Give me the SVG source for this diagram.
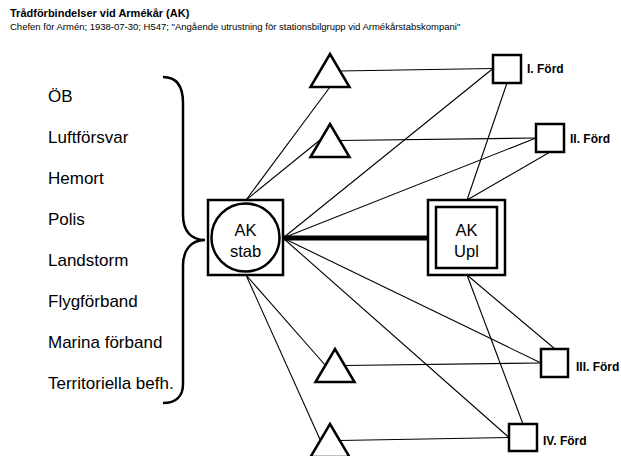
<svg xmlns="http://www.w3.org/2000/svg" width="621" height="456" viewBox="0 0 621 456">
<style>
text{font-family:"Liberation Sans",Arial,sans-serif;fill:#000}
.title{font-size:11px;font-weight:bold}
.sub{font-size:9.5px}
.lbl{font-size:17px}
.node{font-size:16.5px;text-anchor:middle}
.ford{font-size:12px;font-weight:bold}
.sh{fill:#fff;stroke:#000;stroke-width:2.5}
.tri{fill:#fff;stroke:#000;stroke-width:2.5;stroke-linejoin:miter}
.ln{stroke:#000;stroke-width:1.1;fill:none}
</style>
<rect width="621" height="456" fill="#fff"/>
<text class="title" x="10" y="17">Trådförbindelser vid Armékår (AK)</text>
<text class="sub" x="10" y="30">Chefen för Armén; 1938-07-30; H547; "Angående utrustning för stationsbilgrupp vid Armékårstabskompani"</text>
<g id="labels">
<text class="lbl" x="48" y="102">ÖB</text>
<text class="lbl" x="48" y="143">Luftförsvar</text>
<text class="lbl" x="48" y="184">Hemort</text>
<text class="lbl" x="48" y="225">Polis</text>
<text class="lbl" x="48" y="266">Landstorm</text>
<text class="lbl" x="48" y="307">Flygförband</text>
<text class="lbl" x="48" y="348">Marina förband</text>
<text class="lbl" x="48" y="389">Territoriella befh.</text>
</g>
<g id="brace">
<path d="M163,77 C178,77 183,88 183,103 L183,215 C183,231 191,240 205,240 C191,240 183,250 183,266 L183,384 C183,396 176,403 163,403" fill="none" stroke="#000" stroke-width="2.5"/>
</g>
<g id="connectors">
<line x1="283" y1="238" x2="428" y2="238" stroke="#000" stroke-width="5"/>
<line class="ln" x1="246" y1="200" x2="330" y2="87"/>
<line class="ln" x1="246" y1="200" x2="320" y2="140"/>
<line class="ln" x1="339" y1="71" x2="493" y2="68.5"/>
<line class="ln" x1="339" y1="140.5" x2="536" y2="138"/>
<line class="ln" x1="283" y1="238" x2="493" y2="68.5"/>
<line class="ln" x1="283" y1="238" x2="536" y2="138"/>
<line class="ln" x1="283" y1="238" x2="541" y2="363"/>
<line class="ln" x1="283" y1="238" x2="509" y2="437.5"/>
<line class="ln" x1="467" y1="200" x2="507" y2="83"/>
<line class="ln" x1="467" y1="200" x2="550" y2="152"/>
<line class="ln" x1="467" y1="275" x2="555" y2="349"/>
<line class="ln" x1="467" y1="275" x2="523" y2="424"/>
<line class="ln" x1="246" y1="275" x2="325.5" y2="365.5"/>
<line class="ln" x1="246" y1="275" x2="320.5" y2="440.5"/>
<line class="ln" x1="344.5" y1="365.5" x2="541" y2="363"/>
<line class="ln" x1="339.5" y1="440.5" x2="509" y2="437.5"/>
</g>
<g id="ak-stab">
<rect class="sh" x="208" y="200" width="75" height="75"/>
<circle class="sh" cx="245.5" cy="237.5" r="34"/>
<text class="node" x="245.5" y="236">AK</text>
<text class="node" x="245.5" y="257">stab</text>
</g>
<g id="ak-upl">
<rect class="sh" x="428" y="200" width="77" height="75"/>
<rect class="sh" x="436" y="207" width="61" height="61"/>
<text class="node" x="466.5" y="236">AK</text>
<text class="node" x="466.5" y="257">Upl</text>
</g>
<g id="tri1"><polygon class="tri" points="330,54 349.5,87 310.5,87"/></g>
<g id="tri2"><polygon class="tri" points="330,124 349.5,157 310.5,157"/></g>
<g id="tri3"><polygon class="tri" points="335,349 354.5,382 315.5,382"/></g>
<g id="tri4"><polygon class="tri" points="330,424 349.5,457 310.5,457"/></g>
<g id="ford1"><rect class="sh" x="493" y="55" width="28" height="28"/><text class="ford" x="527" y="73">I. Förd</text></g>
<g id="ford2"><rect class="sh" x="536" y="124" width="28" height="28"/><text class="ford" x="570" y="143">II. Förd</text></g>
<g id="ford3"><rect class="sh" x="541" y="349" width="27" height="28"/><text class="ford" x="576" y="371">III. Förd</text></g>
<g id="ford4"><rect class="sh" x="509" y="424" width="28" height="27"/><text class="ford" x="543" y="445">IV. Förd</text></g>
</svg>
